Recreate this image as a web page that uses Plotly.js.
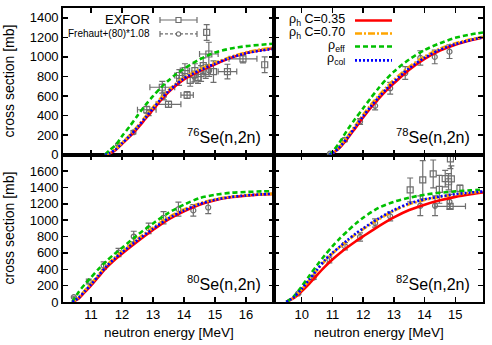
<!DOCTYPE html>
<html><head><meta charset="utf-8">
<script src="https://cdn.plot.ly/plotly-3.0.1.min.js"></script>
<style>html,body{margin:0;padding:0;background:#fff}#chart{width:492px;height:345px}</style>
</head><body><div id="chart"></div>
<script>
// ---------- model curves ----------
// 76Se (top-left)
const e76 = [11.45, 11.6, 11.8, 12.0, 12.25, 12.5, 12.75, 13.0, 13.25, 13.5, 13.75, 14.0, 14.5, 15.0, 15.5, 16.0, 16.5, 16.9];
const red76 = [0, 12, 50, 110, 185, 270, 365, 460, 555, 640, 710, 770, 855, 925, 990, 1040, 1070, 1090];
const orange76 = [0, 16, 58, 122, 200, 290, 388, 485, 578, 660, 730, 790, 872, 940, 1000, 1048, 1078, 1095];
const blue76 = [0, 14, 54, 116, 193, 280, 376, 472, 566, 650, 720, 780, 862, 930, 992, 1038, 1066, 1083];
const green76 = [0, 45, 100, 190, 290, 400, 505, 600, 685, 760, 825, 880, 975, 1045, 1085, 1110, 1125, 1135];
// 78Se (top-right)
const e78 = [10.9, 11.0, 11.2, 11.5, 11.75, 12.0, 12.25, 12.5, 12.75, 13.0, 13.5, 14.0, 14.5, 15.0, 15.5, 15.9];
const red78 = [0, 15, 60, 170, 275, 380, 480, 570, 655, 730, 870, 980, 1065, 1125, 1170, 1200];
const orange78 = [0, 18, 70, 192, 300, 408, 510, 602, 688, 765, 900, 1005, 1085, 1140, 1180, 1205];
const blue78 = [0, 16, 65, 180, 287, 393, 494, 585, 670, 746, 884, 992, 1074, 1131, 1173, 1201];
const green78 = [0, 30, 110, 260, 370, 475, 580, 680, 770, 850, 975, 1070, 1140, 1195, 1230, 1250];
// 80Se (bottom-left)
const e80 = [10.4, 10.6, 10.8, 11.0, 11.25, 11.5, 11.75, 12.0, 12.5, 13.0, 13.5, 14.0, 14.5, 15.0, 15.5, 16.0, 16.5, 16.9];
const red80 = [0, 40, 120, 200, 310, 420, 510, 590, 740, 880, 1010, 1110, 1190, 1245, 1280, 1300, 1315, 1322];
const orange80 = [0, 55, 140, 222, 335, 445, 537, 618, 770, 908, 1035, 1130, 1205, 1255, 1287, 1305, 1318, 1324];
const blue80 = [0, 50, 132, 213, 325, 435, 527, 607, 757, 895, 1023, 1120, 1197, 1250, 1283, 1302, 1316, 1323];
const green80 = [0, 120, 215, 300, 405, 500, 585, 660, 820, 960, 1090, 1190, 1270, 1310, 1335, 1345, 1352, 1356];
// 82Se (bottom-right)
const e82 = [9.5, 9.75, 10.0, 10.25, 10.5, 10.75, 11.0, 11.25, 11.5, 11.75, 12.0, 12.5, 13.0, 13.5, 14.0, 14.5, 15.0, 15.5, 15.9];
const red82 = [0, 50, 130, 225, 330, 430, 520, 600, 672, 740, 802, 925, 1035, 1125, 1190, 1243, 1285, 1317, 1338];
const orange82 = [0, 58, 155, 268, 388, 500, 592, 672, 750, 825, 890, 1010, 1115, 1195, 1248, 1285, 1314, 1335, 1350];
const blue82 = [0, 60, 160, 275, 395, 510, 600, 680, 760, 835, 900, 1020, 1125, 1205, 1255, 1290, 1318, 1338, 1352];
const green82 = [0, 70, 190, 320, 450, 570, 680, 780, 870, 955, 1030, 1150, 1225, 1275, 1312, 1335, 1352, 1365, 1375];

// ---------- experimental data ----------
// 76Se EXFOR with x errors
const ex76xE = [12.8, 13.3, 13.5, 13.85, 14.03, 14.1, 14.8, 15.4, 15.9];
const ex76xS = [460, 690, 515, 810, 860, 610, 1030, 850, 980];
const ex76xDx = [0.3, 0.4, 0.4, 0.15, 0.15, 0.2, 0.3, 0.3, 0.45];
const ex76xDy = [35, 60, 30, 60, 70, 35, 120, 75, 40];
// 76Se EXFOR without x errors
const ex76E = [14.2, 14.35, 14.45, 14.55, 14.62, 14.7, 14.73, 14.95, 16.6];
const ex76S = [760, 860, 790, 830, 910, 850, 1250, 850, 920];
const ex76Dy = [60, 70, 60, 80, 80, 70, 80, 110, 80];
// 76Se Frehaut
const fr76E = [11.88, 12.37, 12.86, 13.35, 13.84, 14.33, 14.81];
const fr76S = [105, 230, 430, 600, 760, 800, 860];
const fr76Dy = [10, 18, 30, 40, 50, 55, 60];
// 78Se Frehaut
const fr78E = [10.92, 11.41, 11.9, 12.39, 12.88, 13.37, 13.86, 14.33, 14.81];
const fr78S = [12, 153, 340, 500, 680, 835, 990, 1000, 1054];
const fr78Dy = [5, 20, 30, 42, 60, 65, 73, 70, 70];
// 80Se Frehaut
const fr80E = [10.45, 10.93, 11.41, 11.89, 12.38, 12.86, 13.34, 13.82, 14.3, 14.78];
const fr80S = [60, 250, 445, 605, 800, 900, 1030, 1135, 1120, 1155];
const fr80Dy = [10, 30, 45, 50, 65, 65, 75, 85, 70, 75];
// 82Se Frehaut
const fr82E = [9.89, 10.39, 10.9, 11.41, 11.9, 12.39, 12.88, 13.86, 14.34, 14.81];
const fr82S = [104, 300, 519, 681, 795, 966, 1047, 1177, 1177, 1225];
const fr82Dy = [10, 25, 40, 45, 50, 50, 55, 120, 120, 90];
// 82Se EXFOR
const ex82E = [13.53, 13.94, 14.28, 14.48, 14.67, 14.78, 14.87, 14.84, 15.15];
const ex82S = [1370, 1494, 1566, 1377, 1508, 1470, 1505, 1750, 1390];
const ex82Dy = [146, 234, 170, 170, 100, 100, 160, 120, 40];
const ex82xE = [14.83];
const ex82xS = [1170];
const ex82xDx = [0.5];
const ex82xDy = [30];

// ---------- tick labels ----------
const xTicksLeft = [11, 12, 13, 14, 15, 16];
const xTicksRight = [10, 11, 12, 13, 14, 15];
const yTicksTop = [0, 200, 400, 600, 800, 1000, 1200, 1400];
const yTicksBottom = [0, 200, 400, 600, 800, 1000, 1200, 1400, 1600];
const panelLabels = ['<sup>76</sup>Se(n,2n)', '<sup>78</sup>Se(n,2n)', '<sup>80</sup>Se(n,2n)', '<sup>82</sup>Se(n,2n)'];
const modelNames = ['ρ<sub>h</sub> C=0.35', 'ρ<sub>h</sub> C=0.70', 'ρ<sub>eff</sub>', 'ρ<sub>col</sub>'];

// ---------- styles ----------
const GRAY = '#6e6e6e';
const cRed = '#ff0000', cOrange = '#ffa500', cGreen = '#00c000', cBlue = '#0000ff';
const lw = 2.6;
const lineStyles = [
  {color: cRed, width: lw, dash: 'solid'},
  {color: cOrange, width: lw, dash: '7px,2px,2px,2px'},
  {color: cGreen, width: lw, dash: '5px,3px'},
  {color: cBlue, width: lw, dash: '2px,2px'}
];

const traces = [];
function curves(e, r, o, g, b, xa, ya) {
  [r, o, g, b].forEach((ys, i) => {
    traces.push({x: e, y: ys, xaxis: xa, yaxis: ya, mode: 'lines', type: 'scatter',
      line: Object.assign({shape: 'spline', smoothing: 0.8}, lineStyles[i]), hoverinfo: 'skip'});
  });
}
function pts(e, s, dy, dx, sym, xa, ya) {
  const t = {x: e, y: s, xaxis: xa, yaxis: ya, mode: 'markers', type: 'scatter',
    marker: {symbol: sym, size: sym === 'square-open' ? 6 : 5, color: GRAY, line: {width: 1.2, color: GRAY}},
    error_y: {type: 'data', array: dy, visible: true, color: GRAY, thickness: 1.2, width: 3}};
  if (dx) t.error_x = {type: 'data', array: dx, visible: true, color: GRAY, thickness: 1.2, width: 3};
  traces.push(t);
}
pts(fr76E, fr76S, fr76Dy, null, 'circle-open', 'x3', 'y3');
pts(ex76E, ex76S, ex76Dy, null, 'square-open', 'x3', 'y3');
pts(ex76xE, ex76xS, ex76xDy, ex76xDx, 'square-open', 'x3', 'y3');
pts(fr78E, fr78S, fr78Dy, null, 'circle-open', 'x4', 'y4');
pts(fr80E, fr80S, fr80Dy, null, 'circle-open', 'x', 'y');
pts(fr82E, fr82S, fr82Dy, null, 'circle-open', 'x2', 'y2');
pts(ex82E, ex82S, ex82Dy, null, 'square-open', 'x2', 'y2');
pts(ex82xE, ex82xS, ex82xDy, ex82xDx, 'square-open', 'x2', 'y2');

curves(e76, red76, orange76, green76, blue76, 'x3', 'y3');
curves(e78, red78, orange78, green78, blue78, 'x4', 'y4');
curves(e80, red80, orange80, green80, blue80, 'x', 'y');
curves(e82, red82, orange82, green82, blue82, 'x2', 'y2');

// ---------- layout ----------
const ML = 63, MR = 9, MT = 8, MB = 42.5, W = 492, H = 345;
const PW = W - ML - MR, PH = H - MT - MB;
const px = v => (v - ML) / PW;
const py = v => 1 - (v - MT) / PH;
const xSplit = (274 - ML) / PW;
const ySplit = (302.5 - 155) / PH;
const FONT = 'Liberation Sans, Arial, sans-serif';

function ax(extra) {
  return Object.assign({
    showline: true, linecolor: '#000', linewidth: 1.8, mirror: 'ticks',
    ticks: 'inside', ticklen: 5, tickwidth: 1.5, tickcolor: '#000',
    showgrid: false, zeroline: false, fixedrange: true,
    tickfont: {family: FONT, size: 13, color: '#000'}
  }, extra);
}

const layout = {
  width: W, height: H,
  margin: {l: ML, r: MR, t: MT, b: MB},
  paper_bgcolor: '#fff', plot_bgcolor: '#fff',
  showlegend: false,
  font: {family: FONT, size: 13, color: '#000'},
  xaxis: ax({domain: [0, xSplit], range: [10.1, 16.9], tickvals: xTicksLeft, anchor: 'y'}),
  yaxis: ax({domain: [0, ySplit], range: [0, 1800], tickvals: yTicksBottom, anchor: 'x'}),
  xaxis2: ax({domain: [xSplit, 1], range: [9.1, 15.9], tickvals: xTicksRight, anchor: 'y2'}),
  yaxis2: ax({domain: [0, ySplit], range: [0, 1800], tickvals: yTicksBottom, showticklabels: false, anchor: 'x2'}),
  xaxis3: ax({domain: [0, xSplit], range: [10.1, 16.9], tickvals: xTicksLeft, showticklabels: false, anchor: 'y3'}),
  yaxis3: ax({domain: [ySplit, 1], range: [0, 1500], tickvals: yTicksTop, anchor: 'x3'}),
  xaxis4: ax({domain: [xSplit, 1], range: [9.1, 15.9], tickvals: xTicksRight, showticklabels: false, anchor: 'y4'}),
  yaxis4: ax({domain: [ySplit, 1], range: [0, 1500], tickvals: yTicksTop, showticklabels: false, anchor: 'x4'}),
  annotations: [],
  shapes: []
};

// panel labels
[['x3', 'y3'], ['x4', 'y4'], ['x', 'y'], ['x2', 'y2']].forEach((p, i) => {
  layout.annotations.push({text: panelLabels[i], xref: p[0] + ' domain', yref: p[1] + ' domain',
    x: 1, y: 0, xanchor: 'right', yanchor: 'middle', xshift: -11, yshift: 19, showarrow: false,
    font: {family: FONT, size: 16, color: '#000'}});
});
// axis titles
['y3', 'y'].forEach(a => layout.annotations.push({text: 'cross section [mb]', textangle: -90,
  xref: 'paper', x: px(9), xanchor: 'center', yref: a + ' domain', y: 0.5, yanchor: 'middle',
  showarrow: false, font: {family: FONT, size: 14, color: '#000'}}));
['x', 'x2'].forEach(a => layout.annotations.push({text: 'neutron energy [MeV]',
  xref: a + ' domain', x: 0.5, xanchor: 'center', yref: 'paper', y: py(333), yanchor: 'middle',
  showarrow: false, font: {family: FONT, size: 13.5, color: '#000'}}));

// legend (top-left): experimental data
layout.annotations.push({text: 'EXFOR', xref: 'paper', yref: 'paper', x: px(152), y: py(20),
  xanchor: 'right', yanchor: 'middle', showarrow: false, font: {family: FONT, size: 13, color: '#000'}});
layout.annotations.push({text: 'Frehaut+(80)*1.08', xref: 'paper', yref: 'paper', x: px(152), y: py(34),
  xanchor: 'right', yanchor: 'middle', showarrow: false, font: {family: FONT, size: 10, color: '#000'}});
const L0 = 160, L1 = 197, LM = 178.5;
function seg(x0, y0, x1, y1, color, width, dash) {
  layout.shapes.push({type: 'line', xref: 'paper', yref: 'paper', x0: px(x0), x1: px(x1), y0: py(y0), y1: py(y1),
    line: {color: color, width: width, dash: dash || 'solid'}});
}
seg(L0, 20, L1, 20, GRAY, 1.2);
seg(L0, 17, L0, 23, GRAY, 1.2); seg(L1, 17, L1, 23, GRAY, 1.2);
layout.shapes.push({type: 'rect', xref: 'paper', yref: 'paper', x0: px(LM - 2.5), x1: px(LM + 2.5), y0: py(22.5), y1: py(17.5),
  line: {color: GRAY, width: 1.2}, fillcolor: '#fff'});
seg(L0, 34, L1, 34, GRAY, 1.2, '3px,2px');
seg(L0, 31, L0, 37, GRAY, 1.2); seg(L1, 31, L1, 37, GRAY, 1.2);
layout.shapes.push({type: 'circle', xref: 'paper', yref: 'paper', x0: px(LM - 2.2), x1: px(LM + 2.2), y0: py(36.2), y1: py(31.8),
  line: {color: GRAY, width: 1.2}, fillcolor: '#fff'});

// legend (top-right): models
const rowY = [20.5, 33.5, 46.5, 60.5];
const txtY = [20, 33, 46, 59.5];
modelNames.forEach((n, i) => {
  layout.annotations.push({text: n, xref: 'paper', yref: 'paper', x: px(347), y: py(txtY[i]),
    xanchor: 'right', yanchor: 'middle', showarrow: false, font: {family: FONT, size: 12.5, color: '#000'}});
  seg(355, rowY[i], 392, rowY[i], lineStyles[i].color, lw, lineStyles[i].dash);
});

Plotly.newPlot('chart', traces, layout, {staticPlot: true, displayModeBar: false});
</script></body></html>
